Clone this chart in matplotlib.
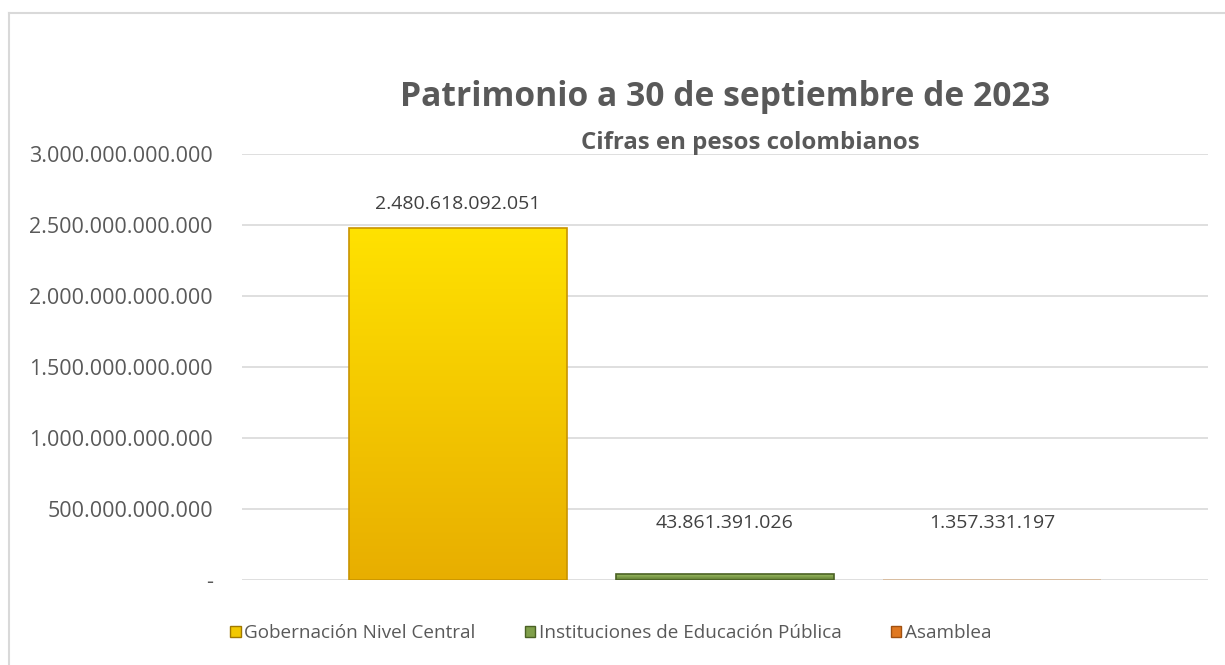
import numpy as np
import matplotlib.pyplot as plt
from matplotlib.patches import Patch
from matplotlib.colors import LinearSegmentedColormap
from matplotlib.lines import Line2D

plt.rcParams['font.family'] = ['Open Sans', 'DejaVu Sans']

# datos
categorias = ["Gobernación Nivel Central", "Instituciones de Educación Pública", "Asamblea"]
valores = [2480618092051, 43861391026, 1357331197]
etiquetas = ["2.480.618.092.051", "43.861.391.026", "1.357.331.197"]
yticks = [0, 500e9, 1000e9, 1500e9, 2000e9, 2500e9, 3000e9]
ytick_labels = ["-", "500.000.000.000", "1.000.000.000.000", "1.500.000.000.000",
                "2.000.000.000.000", "2.500.000.000.000", "3.000.000.000.000"]

# colores (arriba, abajo, borde)
grad_top = ["#FFE200", "#A5C86A", "#F0D2B4"]
grad_bot = ["#E8AE00", "#5F7A32", "#DDB894"]
bordes = ["#C89400", "#4A6124", "#D8B896"]

fig = plt.figure(figsize=(12.25, 6.65), dpi=100)
ax = fig.add_axes([242/1225, 1 - 580/665, (1208-242)/1225, (580-154)/665])

x = np.arange(len(categorias))
ancho = 0.816
barras = ax.bar(x, valores, width=ancho, color="none", edgecolor=bordes, linewidth=1.2, zorder=3)

# relleno con degradado
for b, c1, c2 in zip(barras, grad_top, grad_bot):
    cmap = LinearSegmentedColormap.from_list("g", [c2, c1])
    grad = np.linspace(0, 1, 256).reshape(-1, 1)
    x0, y0 = b.get_x(), b.get_y()
    im = ax.imshow(grad, cmap=cmap, aspect="auto", origin="lower",
                   extent=[x0, x0 + b.get_width(), y0, y0 + b.get_height()], zorder=2)
    im.set_clip_path(b)

# etiquetas de datos (las barras pequeñas llevan la etiqueta algo más arriba)
for xi, v, t in zip(x, valores, etiquetas):
    ax.annotate(t, (xi, max(v, 235e9)), xytext=(0, 17), textcoords="offset points",
                ha="center", va="center", fontsize=14, color="#404040")

ax.set_xlim(-0.808, 2.808)
ax.set_ylim(0, 3000e9)
ax.set_yticks(yticks)
ax.set_yticklabels(ytick_labels, fontsize=15.5, color="#595959")
ax.set_xticks([])
ax.tick_params(axis="y", length=0, pad=21)
ax.grid(axis="y", color="#D9D9D9", linewidth=1.2, zorder=0)
for s in ax.spines.values():
    s.set_visible(False)

fig.text(725/1225, 1 - 97/665, "Patrimonio a 30 de septiembre de 2023", ha="center", va="center",
         fontsize=24.2, fontweight="bold", color="#595959")
fig.text(750/1225, 1 - 143/665, "Cifras en pesos colombianos", ha="center", va="center",
         fontsize=17.3, fontweight="bold", color="#595959")

handles = [Patch(facecolor=c, edgecolor=e) for c, e in zip(["#F2C800", "#7F9F4A", "#E07820"], ["#A07800", "#4A6124", "#A05010"])]
fig.legend(handles, categorias, loc="center", bbox_to_anchor=(611/1225, 1 - 633/665), ncol=3,
           frameon=False, fontsize=13.6, labelcolor="#595959", handlelength=0.55, handleheight=0.55,
           handletextpad=0.2, columnspacing=2.6)

# marco
fig.add_artist(Line2D([9/1225, 1], [1 - 13/665, 1 - 13/665], color="#D9D9D9", linewidth=1.5))
fig.add_artist(Line2D([9/1225, 9/1225], [0, 1 - 13/665], color="#D9D9D9", linewidth=1.5))

fig.savefig("out.png", dpi=100)
